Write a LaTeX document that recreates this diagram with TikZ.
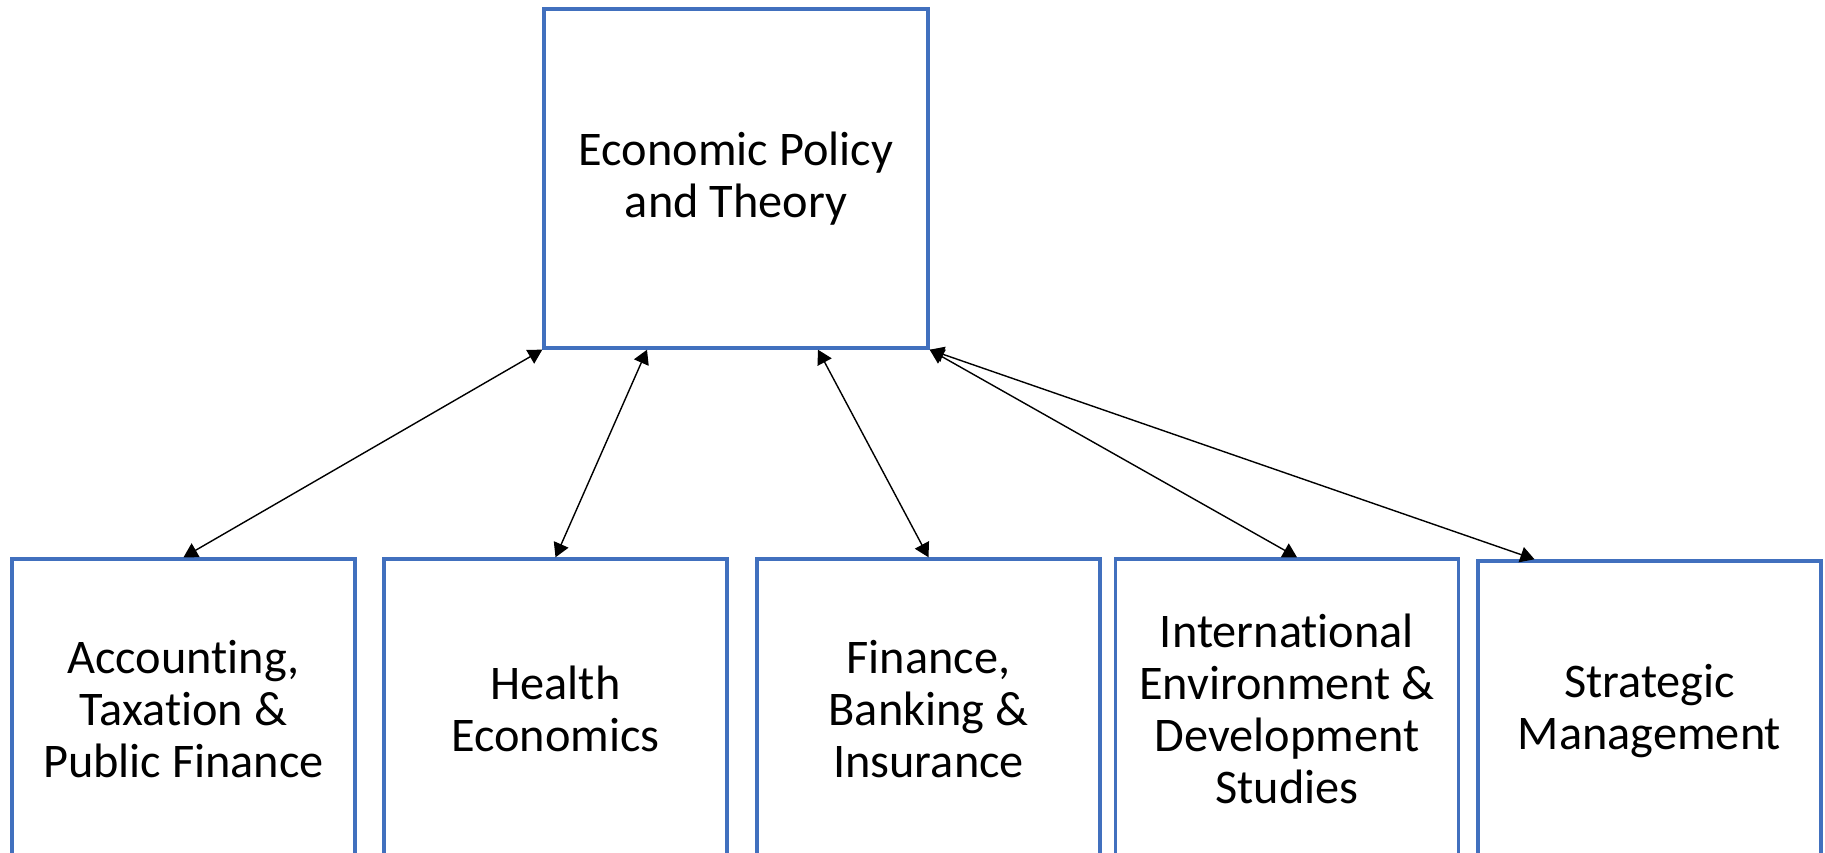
\documentclass[tikz,border=0pt]{standalone}
\usepackage{fontspec}
\setmainfont{Carlito}[Ligatures=NoCommon]
\usetikzlibrary{arrows.meta,positioning}
\definecolor{boxblue}{RGB}{65,112,190}

\begin{document}
\begin{tikzpicture}[x=0.02cm, y=-0.02cm,
    box/.style={draw=boxblue, line width=2pt, align=center, inner sep=0pt,
        minimum width=6.86cm, minimum height=6cm, font=\fontsize{27.5}{29.5}\selectfont},
    topbox/.style={box, minimum width=7.68cm, minimum height=6.78cm},
    link/.style={<->, line width=0.8pt, >={Triangle[length=8pt,width=9pt]}}]
\useasboundingbox (0,0) rectangle (1825,852);
\clip (0,0) rectangle (1825,852);
\node[topbox] (econ) at (736,178.5) {Economic Policy\\and Theory};

\node[box] (acct) at (183.5,709) {Accounting,\\Taxation \&\\Public Finance};
\node[box] (health) at (555.5,709) {Health\\Economics};
\node[box] (fin) at (928.5,709) {Finance,\\Banking \&\\Insurance};
\node[box] (intl) at (1287,709) {International\\Environment \&\\Development\\Studies};
\node[box] (strat) at (1649.5,711) {Strategic\\Management};

% links to the core
\draw[link] (econ.south west) -- (acct.north);
\draw[link] ([xshift=-89*0.02cm]econ.south) -- (health.north);
\draw[link] ([xshift=82*0.02cm]econ.south) -- (fin.north);
\draw[link] (econ.south east) -- ([xshift=10*0.02cm]intl.north);
\draw[link] (econ.south east) -- ([xshift=-115*0.02cm]strat.north);
\end{tikzpicture}
\end{document}
